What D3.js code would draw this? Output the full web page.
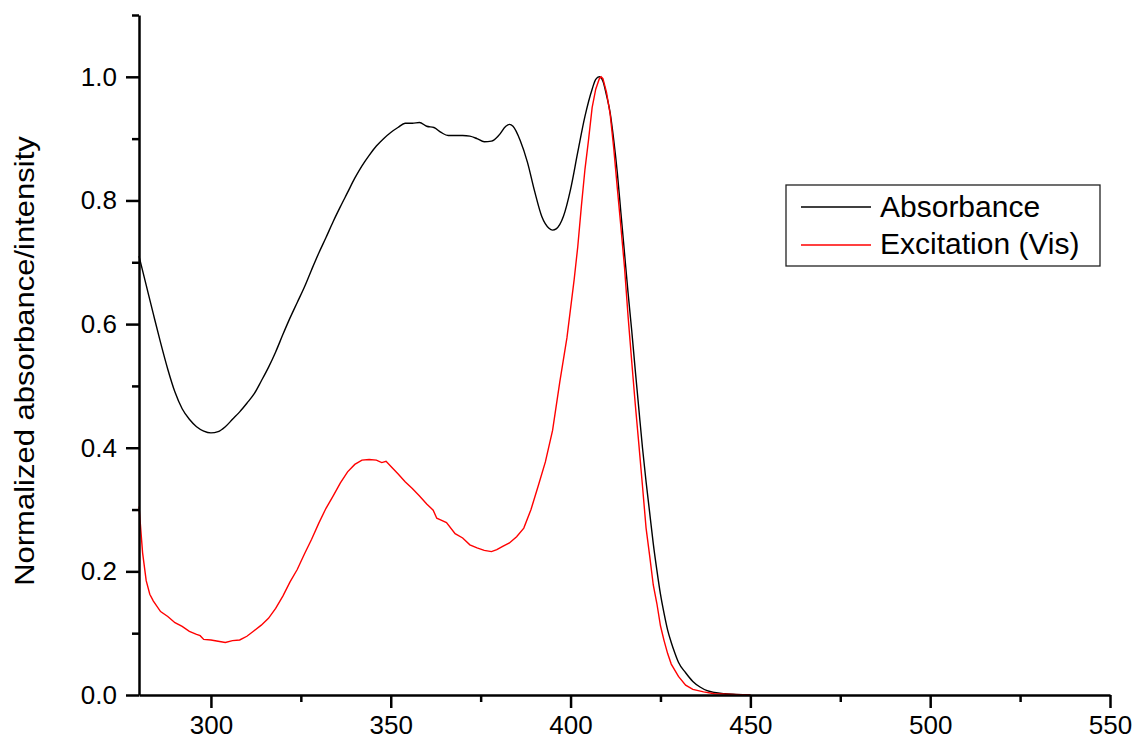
<html>
<head>
  <script src="https://cdn.jsdelivr.net/npm/d3@7/dist/d3.min.js"></script>
</head>
<style>
  body { margin: 0; background: white; }
  svg { display: block; font-family: "Liberation Sans", Arial, sans-serif; }
</style>
<body>
  <svg width="1134" height="745" id="chart"></svg>

  <script>
    // absorbance (black)
    var absWl = [280, 282, 284, 286, 288, 290, 292, 294, 296, 298, 300, 302, 304, 306, 308, 310, 312, 314, 316, 318,
      320, 322, 324, 326, 328, 330, 332, 334, 336, 338, 340, 342, 344, 346, 348, 350, 352, 354, 356, 358,
      360, 362, 364, 366, 368, 370, 372, 374, 376, 378, 380, 382, 383, 384, 386, 388, 390, 392, 394, 395,
      396, 398, 400, 402, 404, 406, 407, 408, 409, 410, 411, 412, 413, 414, 415, 416, 417, 418, 419, 420,
      421, 422, 423, 424, 425, 426, 427, 428, 429, 430, 432, 434, 436, 438, 440, 443, 446, 450];
    var absVal = [0.710, 0.663, 0.616, 0.570, 0.527, 0.490, 0.463, 0.446, 0.434, 0.427, 0.424, 0.426, 0.434, 0.446, 0.458, 0.472, 0.487, 0.508, 0.530, 0.555,
      0.583, 0.610, 0.635, 0.660, 0.688, 0.715, 0.740, 0.766, 0.790, 0.813, 0.836, 0.856, 0.873, 0.888, 0.900, 0.910, 0.918, 0.925, 0.925, 0.926,
      0.920, 0.918, 0.910, 0.905, 0.905, 0.905, 0.904, 0.900, 0.895, 0.896, 0.905, 0.920, 0.923, 0.920, 0.897, 0.862, 0.815, 0.774, 0.755, 0.752,
      0.754, 0.774, 0.818, 0.878, 0.936, 0.980, 0.996, 1.000, 0.993, 0.970, 0.942, 0.898, 0.845, 0.780, 0.715, 0.650, 0.590, 0.525, 0.462, 0.400,
      0.345, 0.295, 0.245, 0.202, 0.163, 0.132, 0.105, 0.085, 0.068, 0.053, 0.036, 0.022, 0.013, 0.007, 0.004, 0.002, 0.001, 0.000];

    // excitation (red)
    var excWl = [280, 281, 282, 283, 284, 286, 288, 290, 292, 294, 296, 297, 298, 300, 302, 304, 306, 308, 310, 312,
      314, 316, 318, 320, 322, 324, 326, 328, 330, 332, 334, 336, 338, 340, 342, 344, 346, 347.5, 348.7, 350,
      352, 354, 356, 358, 360, 361.8, 362.8, 364, 365.5, 367.9, 370, 372, 374, 376, 378, 379.5, 381, 383, 385, 387,
      389, 391, 393, 395, 397, 399, 401, 402, 403, 404, 405, 406, 407, 408, 408.5, 409, 410, 411, 412, 413,
      414, 415, 416, 417, 418, 419, 420, 421, 422, 423, 424, 425, 426, 427, 428, 430, 432, 434, 437, 440, 445, 450];
    var excVal = [0.305, 0.230, 0.185, 0.163, 0.152, 0.135, 0.127, 0.117, 0.111, 0.103, 0.098, 0.096, 0.090, 0.089, 0.087, 0.085, 0.088, 0.089, 0.095, 0.104,
      0.113, 0.124, 0.140, 0.160, 0.183, 0.203, 0.228, 0.252, 0.278, 0.302, 0.322, 0.343, 0.361, 0.373, 0.380, 0.381, 0.380, 0.376, 0.378, 0.370,
      0.358, 0.345, 0.334, 0.322, 0.309, 0.299, 0.286, 0.283, 0.279, 0.261, 0.254, 0.243, 0.238, 0.234, 0.232, 0.235, 0.240, 0.246, 0.256, 0.270,
      0.300, 0.338, 0.377, 0.428, 0.506, 0.578, 0.672, 0.725, 0.790, 0.850, 0.898, 0.950, 0.980, 0.997, 1.000, 0.997, 0.975, 0.940, 0.885, 0.820,
      0.757, 0.692, 0.612, 0.540, 0.470, 0.405, 0.338, 0.270, 0.225, 0.178, 0.148, 0.112, 0.088, 0.067, 0.050, 0.030, 0.016, 0.009, 0.005, 0.002, 0.001, 0.000];

    var xMajor = [300, 350, 400, 450, 500, 550];
    var xMinor = [325, 375, 425, 475, 525];
    var yMajor = [0.0, 0.2, 0.4, 0.6, 0.8, 1.0];
    var yMinor = [0.1, 0.3, 0.5, 0.7, 0.9, 1.1];
    var seriesNames = ['Absorbance', 'Excitation (Vis)'];
    var seriesColors = ['#000000', '#ff0000'];

    var svg = d3.select('#chart');
    var x = d3.scaleLinear().domain([280, 550]).range([139, 1110]);
    var y = d3.scaleLinear().domain([0, 1.1]).range([695, 15]);

    //curves
    var absLine = d3.line()
      .x(function (d, i) { return x(absWl[i]); })
      .y(function (d) { return y(d); })
      .curve(d3.curveMonotoneX);
    var excLine = d3.line()
      .x(function (d, i) { return x(excWl[i]); })
      .y(function (d) { return y(d); });

    svg.append('path').attr('d', absLine(absVal))
      .attr('fill', 'none').attr('stroke', seriesColors[0]).attr('stroke-width', 1.4);
    svg.append('path').attr('d', excLine(excVal))
      .attr('fill', 'none').attr('stroke', seriesColors[1]).attr('stroke-width', 1.4);

    //x axis
    var gx = svg.append('g').attr('transform', 'translate(0,695)');
    gx.call(d3.axisBottom(x).tickValues(xMajor).tickSize(13).tickSizeOuter(0).tickPadding(8)
      .tickFormat(d3.format('d')));
    gx.append('g').call(d3.axisBottom(x).tickValues(xMinor).tickSize(7).tickSizeOuter(0).tickFormat(''))
      .select('.domain').remove();

    //y axis
    var gy = svg.append('g').attr('transform', 'translate(139,0)');
    gy.call(d3.axisLeft(y).tickValues(yMajor).tickSize(13).tickSizeOuter(0).tickPadding(9)
      .tickFormat(d3.format('.1f')));
    gy.append('g').call(d3.axisLeft(y).tickValues(yMinor).tickSize(7).tickSizeOuter(0).tickFormat(''))
      .select('.domain').remove();

    svg.selectAll('.domain').attr('stroke', '#000').attr('stroke-width', 2.5);
    svg.selectAll('.tick line').attr('stroke', '#000').attr('stroke-width', 2.5);
    svg.selectAll('.tick text')
      .attr('fill', '#000')
      .style('font-size', '26px')
      .style('font-family', '"Liberation Sans", Arial, sans-serif');

    //y label
    svg.append('text')
      .attr('transform', 'translate(34,361) rotate(-90) scale(1,0.9)')
      .attr('text-anchor', 'middle')
      .style('font-size', '31px')
      .text('Normalized absorbance/intensity');

    //legend
    var legend = svg.append('g');
    legend.append('rect')
      .attr('x', 786).attr('y', 185).attr('width', 314).attr('height', 81)
      .attr('fill', 'white').attr('stroke', '#222').attr('stroke-width', 1.3);
    legend.selectAll('line')
      .data(seriesNames)
      .enter()
      .append('line')
      .attr('x1', 801).attr('x2', 871)
      .attr('y1', function (d, i) { return 207 + i * 38; })
      .attr('y2', function (d, i) { return 207 + i * 38; })
      .attr('stroke', function (d, i) { return seriesColors[i]; })
      .attr('stroke-width', 1.3);
    legend.selectAll('text')
      .data(seriesNames)
      .enter()
      .append('text')
      .attr('x', 880)
      .attr('y', function (d, i) { return 217 + i * 37; })
      .style('font-size', '30px')
      .text(function (d) { return d; });
  </script>
</body>
</html>
